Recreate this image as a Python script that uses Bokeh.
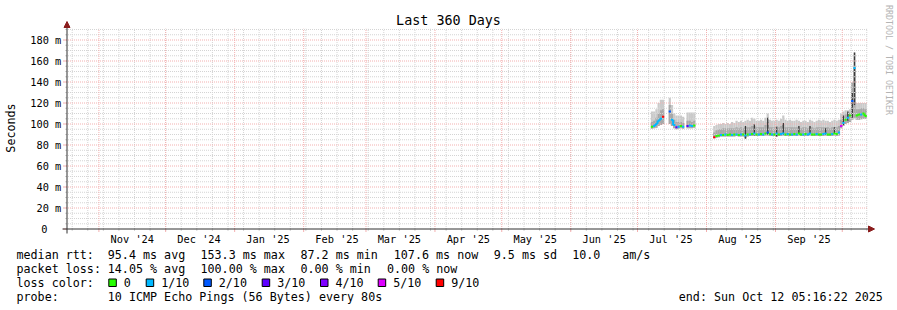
import numpy as np
import pandas as pd
from bokeh.plotting import figure
from bokeh.models import Range1d, ColumnDataSource
from bokeh.core.properties import value
from bokeh.embed import file_html
from bokeh.resources import INLINE

N = np.nan

# ------------------------------------------------------------------ data
title_text = "Last 360 Days"
end_time = "2025-10-12 05:16:22"
span_days = 360
first_day = "2025-07-07"          # first day of the value arrays below (Mondays start each row)

median_ms = [
    97.5, 98, 100, 103, 105, 107, N,
    N, 112, 104, 99, 97, 97.5, 98,
    97.5, N, 98, 98.5, 98, 98.5, N,
    N, N, N, N, N, N, N,
    87.5, 88.5, 89, 89.5, 89.5, 90, 89.5,
    90, 89.5, 90, 90, 89.5, 90, 90,
    89, 90, 90, 90.5, 91, 90, 90,
    90.5, 90, 91, 92, 90.5, 90, 90,
    91, 90, 90.5, 91, 90, 90.5, 90,
    90, 90.5, 90, 91, 90, 90, 90.5,
    90, 91, 90, 90, 90.5, 90, 90,
    90.5, 91, 90, 90, 90.5, 91, 90.5,
    92, 98, 101, 104, 106, 108, 122,
    153.3, 108, 109, 109, 110, 107.6,
]
ping_min_ms = [
    95.5, 96, 96.5, 98, 99, 100, N,
    N, 100, 98, 96, 95, 95.5, 96,
    95.5, N, 96, 96, 96, 96.5, N,
    N, N, N, N, N, N, N,
    86.5, 87, 87.5, 88, 88, 88, 88,
    88, 88, 88, 88.5, 88, 88, 88,
    86.5, 88, 88.5, 88.5, 89, 88.5, 88.5,
    88.5, 88.5, 89, 89, 88.5, 88.5, 88.5,
    88, 88.5, 88.5, 89, 88.5, 88.5, 88.5,
    88.5, 88.5, 88.5, 89, 88.5, 88.5, 88.5,
    88.5, 89, 88.5, 88.5, 88.5, 88.5, 88.5,
    88.5, 89, 88.5, 88.5, 88.5, 89, 88.5,
    89, 96, 98, 100, 101, 102, 104,
    106, 104, 104, 104.5, 105, 105,
]
ping_max_ms = [
    112, 112, 114, 120, 123, 123, N,
    N, 125, 118, 110, 108, 108, 108,
    107, N, 111, 111, 111, 111, N,
    N, N, N, N, N, N, N,
    98, 99, 100, 100, 101, 100, 101,
    100, 102, 101, 103, 102, 103, 102,
    103, 104, 103, 106, 105, 103, 103,
    104, 103, 106, 110, 104, 103, 103,
    104, 103, 105, 108, 104, 103, 104,
    103, 103, 104, 103, 102, 103, 103,
    102, 104, 103, 102, 103, 104, 103,
    104, 103, 103, 102, 103, 104, 103,
    104, 110, 112, 113, 113, 114, 140,
    168, 120, 120, 120, 120, 120,
]
ping_upper_ms = [
    102, 103, 106, 110, 113, 114, N,
    N, 118, 110, 104, 102, 102, 102,
    101, N, 103, 103, 102, 103, N,
    N, N, N, N, N, N, N,
    92, 94, 95, 95, 96, 96, 96,
    96, 96, 96, 97, 96, 97, 96,
    97, 97, 97, 98, 98, 97, 97,
    97, 97, 99, 102, 97, 97, 97,
    98, 97, 98, 100, 97, 97, 97,
    97, 97, 97, 97, 96, 97, 97,
    96, 97, 97, 96, 97, 97, 97,
    97, 97, 97, 96, 97, 97, 97,
    98, 104, 107, 109, 110, 111, 139,
    153, 114, 114, 115, 115, 114,
]
loss_tenths = [
    0, 1, 1, 1, 1, 10, N,
    N, 2, 1, 1, 3, 1, 0,
    1, N, 3, 1, 1, 0, N,
    N, N, N, N, N, N, N,
    10, 0, 0, 1, 0, 1, 0,
    0, 1, 0, 1, 0, 1, 0,
    1, 0, 1, 0, 1, 0, 1,
    0, 1, 0, 2, 0, 1, 0,
    1, 0, 1, 1, 0, 1, 0,
    1, 0, 1, 0, 0, 1, 0,
    1, 1, 0, 0, 1, 0, 0,
    1, 1, 0, 0, 1, 0, 0,
    1, 6, 1, 0, 1, 0, 2,
    1, 0, 0, 1, 0, 0,
]

spike_days = ["2025-08-18", "2025-08-22", "2025-08-28", "2025-09-01", "2025-09-04",
              "2025-09-11", "2025-09-16", "2025-09-23", "2025-09-27", "2025-10-01",
              "2025-10-03", "2025-10-05", "2025-10-06"]
spike_lo_ms = [86, 89, 90, 88, 90, 90, 90, 90, 90, 99, 103, 106, 118]
spike_hi_ms = [98, 100, 106, 97, 101, 98, 98, 96, 97, 108, 112, 130, 168]

loss_levels = [0, 1, 2, 3, 4, 6, 10]
loss_labels = ["0", "1/10", "2/10", "3/10", "4/10", "5/10", "9/10"]
loss_colors = ["#26ff00", "#00b8ff", "#0059ff", "#5e00ff", "#7e00ff", "#dd00ff", "#ff0000"]

y_ticks = [0, 20, 40, 60, 80, 100, 120, 140, 160, 180]
y_tick_labels = ["0", "20 m", "40 m", "60 m", "80 m", "100 m", "120 m", "140 m", "160 m", "180 m"]
y_minor_step = 5
y_grid_top = 190.7

month_starts = ["2024-11-01", "2024-12-01", "2025-01-01", "2025-02-01", "2025-03-01", "2025-04-01",
                "2025-05-01", "2025-06-01", "2025-07-01", "2025-08-01", "2025-09-01", "2025-10-01"]
month_label_days = ["2024-11-16", "2024-12-16", "2025-01-16", "2025-02-16", "2025-03-16", "2025-04-16",
                    "2025-05-16", "2025-06-16", "2025-07-16", "2025-08-16", "2025-09-16"]
month_labels = ["Nov '24", "Dec '24", "Jan '25", "Feb '25", "Mar '25", "Apr '25",
                "May '25", "Jun '25", "Jul '25", "Aug '25", "Sep '25"]

row_rtt = ["median rtt:", "95.4 ms avg", "153.3 ms max", "87.2 ms min", "107.6 ms now",
           "9.5 ms sd", "10.0", "am/s"]
row_loss = ["packet loss:", "14.05 % avg", "100.00 % max", "0.00 % min", "0.00 % now"]
row_probe = ["probe:", "10 ICMP Echo Pings (56 Bytes) every 80s"]
end_label = "end: Sun Oct 12 05:16:22 2025"

# ------------------------------------------------------------------ layout
W, H = 897, 310
X0 = 65.5           # pixel of start time
PX_PER_DAY = 2.2257
Y0 = 228.5          # pixel of 0 ms (from top)
PX_PER_MS = 1.05
FONT = value("DejaVu Sans Mono")

END = pd.Timestamp(end_time)
START = END - pd.Timedelta(days=span_days)
DAY_MS = 86400000.0
t0 = START.value / 1e6
ms_per_px = DAY_MS / PX_PER_DAY

p = figure(width=W, height=H, title=None,
           x_range=Range1d(t0 - X0 * ms_per_px, t0 + (W - X0) * ms_per_px),
           y_range=Range1d((Y0 - H) / PX_PER_MS, Y0 / PX_PER_MS),
           x_axis_type=None, y_axis_type=None,
           toolbar_location=None, output_backend="svg", min_border=0)
p.outline_line_color = None
p.background_fill_color = "white"
p.border_fill_color = "white"
p.extra_x_ranges = {"px": Range1d(0, W)}
p.extra_y_ranges = {"px": Range1d(H, 0)}


def loss_to_color(l):
    if l is None or np.isnan(l):
        return "#000000"
    c = loss_colors[0]
    for lev, col in zip(loss_levels, loss_colors):
        if l >= lev:
            c = col
    return c


days = pd.date_range(first_day, periods=len(median_ms), freq="D")
df = pd.DataFrame(dict(left=days, right=days + pd.Timedelta(days=1),
                       med=median_ms, lo=ping_min_ms, hi=ping_max_ms, up=ping_upper_ms,
                       loss=loss_tenths))
df["color"] = [loss_to_color(v) for v in df["loss"]]
df["prev_med"] = df["med"].shift(1)
df["prev_color"] = df["color"].shift(1)
src = ColumnDataSource(df[["left", "right", "med", "lo", "hi", "up", "color"]])

# smoke
p.quad(left="left", right="right", bottom="lo", top="hi", source=src,
       fill_color="#cacaca", line_color=None)
p.quad(left="left", right="right", bottom="lo", top="up", source=src,
       fill_color="#a8a8a8", line_color=None)
sp = pd.to_datetime(spike_days) + pd.Timedelta(hours=12)
p.vbar(x=sp, width=0.6 * DAY_MS, bottom=spike_lo_ms, top=spike_hi_ms,
       fill_color="#3a3a3a", line_color=None)

# grid
MINOR = "#d4d4d4"
MAJOR = "#f3b0b0"
weeks = pd.date_range(START.normalize(), END, freq="W-SUN")
weeks = weeks[(weeks > START) & (weeks < END)]
months = pd.to_datetime(month_starts)
y_minor = [v for v in np.arange(y_minor_step, y_grid_top, y_minor_step) if v not in y_ticks]

p.segment(x0=weeks, y0=0, x1=weeks, y1=y_grid_top, line_color=MINOR, line_dash="1 1", line_width=1)
p.segment(x0=[START] * len(y_minor), y0=y_minor, x1=[END] * len(y_minor), y1=y_minor,
          line_color=MINOR, line_dash="1 1", line_width=1)
p.segment(x0=months, y0=0, x1=months, y1=y_grid_top, line_color=MAJOR, line_dash="1 1", line_width=1)
p.segment(x0=[START] * (len(y_ticks) - 1), y0=y_ticks[1:], x1=[END] * (len(y_ticks) - 1), y1=y_ticks[1:],
          line_color=MAJOR, line_dash="1 1", line_width=1)

# median line coloured by loss
p.segment(x0="left", y0="med", x1="right", y1="med", line_color="color", line_width=2, source=src)
conn = df[df["med"].notna() & df["prev_med"].notna() & (df["color"] == df["prev_color"])]
p.segment(x0=conn["left"], y0=conn["prev_med"], x1=conn["left"], y1=conn["med"],
          line_color=conn["color"], line_width=2)

# axis ticks
p.segment(x0=[62.5] * len(y_ticks), y0=y_ticks, x1=[66.5] * len(y_ticks), y1=y_ticks,
          x_range_name="px", line_color=MAJOR, line_width=1)
p.segment(x0=[64.5] * len(y_minor), y0=y_minor, x1=[66.5] * len(y_minor), y1=y_minor,
          x_range_name="px", line_color=MINOR, line_width=1)
p.segment(x0=weeks, y0=[228.5] * len(weeks), x1=weeks, y1=[230.5] * len(weeks),
          y_range_name="px", line_color=MINOR, line_width=1)
p.segment(x0=months, y0=[228.5] * len(months), x1=months, y1=[231.5] * len(months),
          y_range_name="px", line_color=MAJOR, line_width=1)

# axes + arrows
AXIS = "#303030"
ARROW = "#8a1c1c"
p.segment(x0=[66.5, 62.0], y0=[233.0, 228.5], x1=[66.5, 869.0], y1=[26.0, 228.5],
          x_range_name="px", y_range_name="px", line_color=AXIS, line_width=1)
p.patches(xs=[[63.5, 69.5, 66.5], [868.0, 868.0, 874.0]],
          ys=[[27.0, 27.0, 21.0], [225.5, 231.5, 228.5]],
          x_range_name="px", y_range_name="px", fill_color=ARROW, line_color=ARROW)

# tick labels
p.text(x=[47.0] + [60.8] * (len(y_ticks) - 1), y=y_ticks, text=y_tick_labels, x_range_name="px",
       text_font=FONT, text_font_size="10.3px", text_align="right", text_baseline="middle",
       text_color="black")
p.text(x=pd.to_datetime(month_label_days), y=[238.3] * len(month_labels), text=month_labels,
       y_range_name="px", text_font=FONT, text_font_size="10.3px", text_align="center",
       text_baseline="middle", text_color="black")

# title and side texts
def ptext(xs, ys, texts, size="11.7px", align="left", baseline="middle", color="black", angle=0.0):
    p.text(x=xs, y=ys, text=texts, x_range_name="px", y_range_name="px", text_font=FONT,
           text_font_size=size, text_align=align, text_baseline=baseline, text_color=color,
           angle=angle)

ptext([448.0], [19.8], [title_text], size="13.4px", align="center")
ptext([10.8], [127.5], ["Seconds"], align="center", angle=np.pi / 2)
ptext([888.3], [4.5], ["RRDTOOL / TOBI OETIKER"], size="8.3px", align="left",
      color="#b4b4b4", angle=-np.pi / 2)

# legend rows
ptext([16.0, 107.3, 200.0, 300.0, 393.3, 493.3, 571.7, 621.7], [254.3] * len(row_rtt), row_rtt)
ptext([16.0, 107.3, 200.0, 300.0, 386.5], [268.3] * len(row_loss), row_loss)
ptext([16.0], [282.3], ["loss color:"])
sq_x = [108.3, 145.7, 203.3, 261.7, 320.0, 377.7, 435.7]
p.quad(left=sq_x, right=[v + 7.5 for v in sq_x], top=[278.5] * len(sq_x), bottom=[286.0] * len(sq_x),
       x_range_name="px", y_range_name="px", fill_color=loss_colors, line_color="black", line_width=1)
ptext([v + 15.0 for v in sq_x], [282.3] * len(loss_labels), loss_labels)
ptext([16.0, 107.3], [296.3, 296.3], row_probe)
ptext([678.3], [296.3], [end_label])

open("out.html", "w").write(file_html(p, INLINE))
